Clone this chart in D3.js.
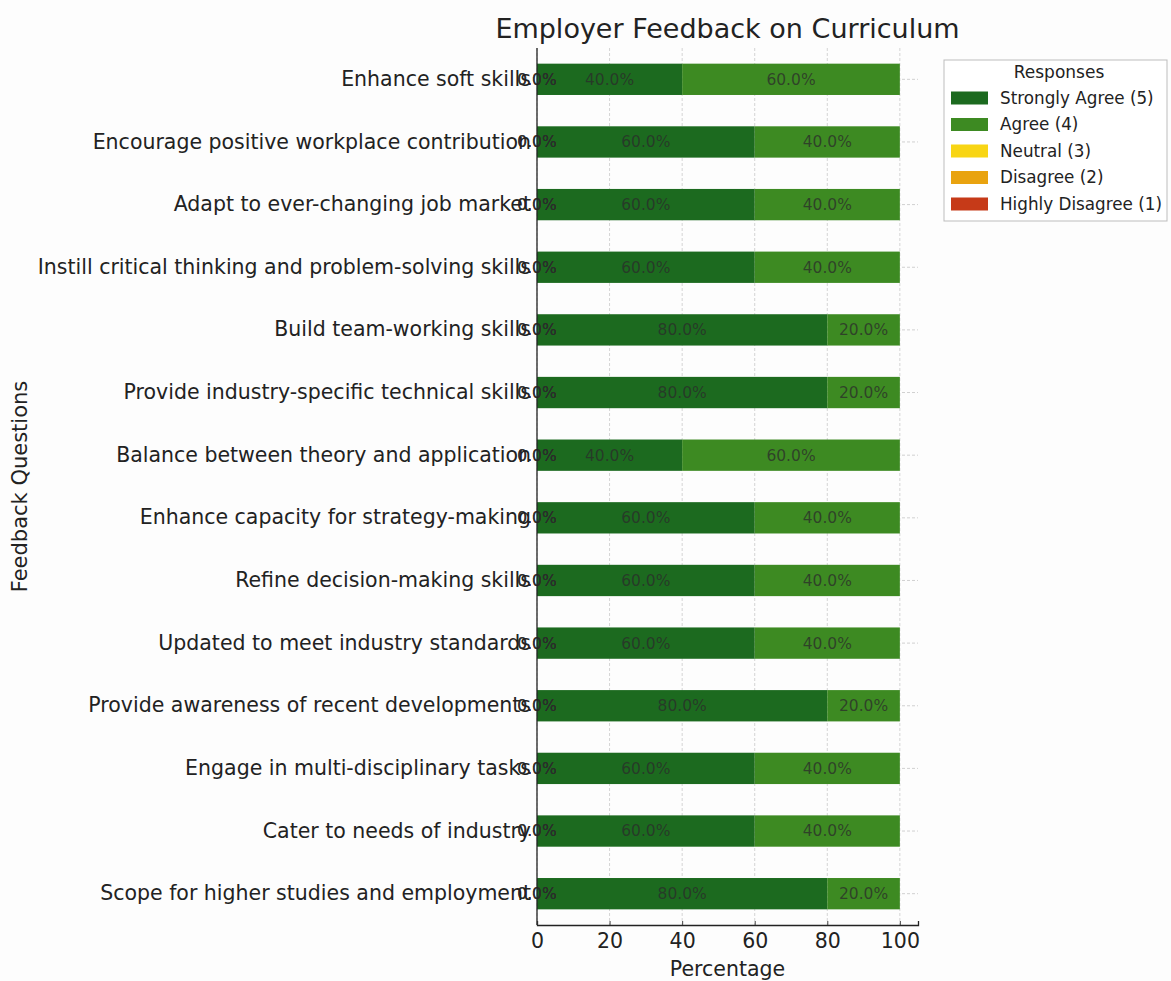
<!DOCTYPE html>
<html>
<head>
<meta charset="utf-8">
<script src="https://cdn.jsdelivr.net/npm/d3@7"></script>
<style>
  body { margin: 0; background: #fdfdfd; }
  svg { display: block; font-family: "DejaVu Sans", sans-serif; }
</style>
</head>
<body>
<svg id="chart" width="1171" height="981"></svg>
<script>
// ---- data ----
const questions = [
  "Enhance soft skills",
  "Encourage positive workplace contribution",
  "Adapt to ever-changing job market",
  "Instill critical thinking and problem-solving skills",
  "Build team-working skills",
  "Provide industry-specific technical skills",
  "Balance between theory and application",
  "Enhance capacity for strategy-making",
  "Refine decision-making skills",
  "Updated to meet industry standards",
  "Provide awareness of recent developments",
  "Engage in multi-disciplinary tasks",
  "Cater to needs of industry",
  "Scope for higher studies and employment"
];
const stronglyAgree   = [40, 60, 60, 60, 80, 80, 40, 60, 60, 60, 80, 60, 60, 80];
const agree           = [60, 40, 40, 40, 20, 20, 60, 40, 40, 40, 20, 40, 40, 20];
const neutral         = [0, 0, 0, 0, 0, 0, 0, 0, 0, 0, 0, 0, 0, 0];
const disagree        = [0, 0, 0, 0, 0, 0, 0, 0, 0, 0, 0, 0, 0, 0];
const highlyDisagree  = [0, 0, 0, 0, 0, 0, 0, 0, 0, 0, 0, 0, 0, 0];
const legendLabels = ["Strongly Agree (5)", "Agree (4)", "Neutral (3)", "Disagree (2)", "Highly Disagree (1)"];
const xTicks = [0, 20, 40, 60, 80, 100];

const colors = {
  "Strongly Agree (5)": "#1c6a1f",
  "Agree (4)": "#3d8a22",
  "Neutral (3)": "#f8d514",
  "Disagree (2)": "#e9a30f",
  "Highly Disagree (1)": "#c63a18"
};
const seriesValues = {
  "Strongly Agree (5)": stronglyAgree,
  "Agree (4)": agree,
  "Neutral (3)": neutral,
  "Disagree (2)": disagree,
  "Highly Disagree (1)": highlyDisagree
};
// stacking order (zero categories sit at the left edge in the original)
const stackOrder = ["Highly Disagree (1)", "Disagree (2)", "Neutral (3)", "Strongly Agree (5)", "Agree (4)"];

const table = questions.map((q, i) => {
  const row = { q };
  legendLabels.forEach(k => row[k] = seriesValues[k][i]);
  return row;
});

// ---- layout ----
const svg = d3.select("#chart");
const pL = 537, pR = 918, pT = 48, pB = 925;

const x = d3.scaleLinear().domain([0, 105]).range([pL, pR]);
const y = d3.scaleBand().domain(questions).range([pT, pB]).paddingInner(0.5).paddingOuter(0.25);

// grid
const grid = svg.append("g");
grid.selectAll("line.v").data(xTicks).join("line")
  .attr("x1", d => x(d)).attr("x2", d => x(d))
  .attr("y1", pT).attr("y2", pB)
  .attr("stroke", "#d4d4d4").attr("stroke-width", 1).attr("stroke-dasharray", "3,2");
grid.selectAll("line.h").data(questions).join("line")
  .attr("x1", pL).attr("x2", pR)
  .attr("y1", d => y(d) + y.bandwidth() / 2).attr("y2", d => y(d) + y.bandwidth() / 2)
  .attr("stroke", "#d0d0d0").attr("stroke-width", 1).attr("stroke-dasharray", "3,2");

// stacked bars
const stacked = d3.stack().keys(stackOrder)(table);
const barsG = svg.append("g");
stacked.forEach(layer => {
  barsG.append("g").selectAll("rect").data(layer).join("rect")
    .attr("x", d => x(d[0]))
    .attr("width", d => x(d[1]) - x(d[0]))
    .attr("y", d => y(d.data.q))
    .attr("height", y.bandwidth())
    .attr("fill", colors[layer.key]);
});
// labels
const labG = svg.append("g");
stacked.forEach(layer => {
  labG.append("g").selectAll("text").data(layer).join("text")
    .attr("x", d => x((d[0] + d[1]) / 2))
    .attr("y", d => y(d.data.q) + y.bandwidth() / 2)
    .attr("dy", "0.35em")
    .attr("text-anchor", "middle")
    .attr("font-size", 15.5)
    .attr("fill", "#2b2b2b")
    .attr("fill-opacity", 0.75)
    .text(d => (d[1] - d[0]).toFixed(1) + "%");
});

// x axis
const xAxis = svg.append("g").attr("transform", `translate(0,${pB})`)
  .call(d3.axisBottom(x).tickValues(xTicks).tickSize(-4).tickPadding(8));
xAxis.select(".domain").attr("stroke", "#222").attr("stroke-width", 1.3);
xAxis.selectAll(".tick line").attr("stroke", "#444");
xAxis.selectAll("text").attr("font-size", 20.5).attr("fill", "#222").attr("font-family", "DejaVu Sans");

// y axis
const yAxis = svg.append("g").attr("transform", `translate(${pL},0)`)
  .call(d3.axisLeft(y).tickSize(0).tickPadding(6));
yAxis.select(".domain").attr("stroke", "#222").attr("stroke-width", 1.3)
  .attr("d", `M0,${pT}V${pB}`);
yAxis.selectAll("text").attr("font-size", 20.5).attr("fill", "#222").attr("font-family", "DejaVu Sans");

// titles
svg.append("text").attr("x", (pL + pR) / 2).attr("y", 38)
  .attr("text-anchor", "middle").attr("font-size", 27).attr("fill", "#222")
  .text("Employer Feedback on Curriculum");
svg.append("text").attr("x", (pL + pR) / 2).attr("y", 976)
  .attr("text-anchor", "middle").attr("font-size", 20.5).attr("fill", "#222")
  .text("Percentage");
svg.append("text").attr("transform", `translate(27,${(pT + pB) / 2}) rotate(-90)`)
  .attr("text-anchor", "middle").attr("font-size", 21).attr("fill", "#222")
  .text("Feedback Questions");

// legend
const lg = svg.append("g");
lg.append("rect").attr("x", 944).attr("y", 60).attr("width", 223).attr("height", 161)
  .attr("fill", "#ffffff").attr("stroke", "#bdbdbd").attr("stroke-width", 1);
lg.append("text").attr("x", 1059).attr("y", 78).attr("text-anchor", "middle")
  .attr("font-size", 17).attr("fill", "#222").text("Responses");
const ly = d3.scalePoint().domain(legendLabels).range([98, 204]);
lg.selectAll("rect.sw").data(legendLabels).join("rect")
  .attr("x", 951).attr("width", 37)
  .attr("y", d => ly(d) - 6.5).attr("height", 13)
  .attr("fill", d => colors[d]);
lg.selectAll("text.lt").data(legendLabels).join("text")
  .attr("x", 1000).attr("y", d => ly(d)).attr("dy", "0.35em")
  .attr("font-size", 16.8).attr("fill", "#222").text(d => d);
</script>
</body>
</html>
